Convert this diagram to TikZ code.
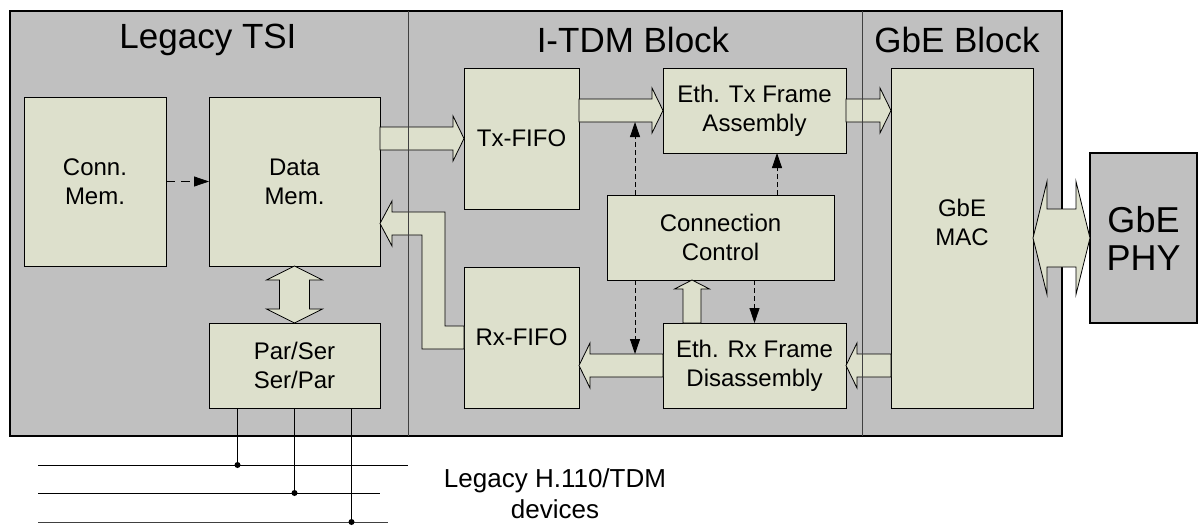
\documentclass[tikz,border=0pt]{standalone}
\usepackage{fontspec}
\setmainfont{Liberation Sans}
\usepackage{xcolor}
\usepackage{tikz}
\usetikzlibrary{arrows.meta, calc}

\definecolor{panelgray}{RGB}{192,192,192}
\definecolor{boxfill}{RGB}{221,224,204}
\definecolor{divgray}{RGB}{64,64,64}

\newcommand{\blockfont}{\fontsize{24}{29}\selectfont}
\newcommand{\titlefont}{\fontsize{35}{40}\selectfont}
\newcommand{\phyfont}{\fontsize{36}{38}\selectfont}
\newcommand{\notefont}{\fontsize{26}{31}\selectfont}

% hollow block arrows: from, to, half shaft, half head, head length
\newcommand{\hfat}[5]{%
  \draw[fat] let \p1=#1, \p2=#2, \n1={sign(\x1-\x2)*#5} in
    (\x1,\y1+#3) -- (\x2+\n1,\y1+#3) -- (\x2+\n1,\y1+#4) -- (\x2,\y1)
    -- (\x2+\n1,\y1-#4) -- (\x2+\n1,\y1-#3) -- (\x1,\y1-#3) -- cycle;}
\newcommand{\vfat}[5]{%
  \draw[fat] let \p1=#1, \p2=#2, \n1={sign(\y1-\y2)*#5} in
    (\x1+#3,\y1) -- (\x1+#3,\y2+\n1) -- (\x1+#4,\y2+\n1) -- (\x1,\y2)
    -- (\x1-#4,\y2+\n1) -- (\x1-#3,\y2+\n1) -- (\x1-#3,\y1) -- cycle;}
\newcommand{\hdfat}[5]{%
  \draw[fat] let \p1=#1, \p2=#2, \n1={sign(\x1-\x2)*#5} in
    (\x1,\y1) -- (\x1-\n1,\y1+#4) -- (\x1-\n1,\y1+#3) -- (\x2+\n1,\y1+#3)
    -- (\x2+\n1,\y1+#4) -- (\x2,\y1) -- (\x2+\n1,\y1-#4) -- (\x2+\n1,\y1-#3)
    -- (\x1-\n1,\y1-#3) -- (\x1-\n1,\y1-#4) -- cycle;}
\newcommand{\vdfat}[5]{%
  \draw[fat] let \p1=#1, \p2=#2, \n1={sign(\y1-\y2)*#5} in
    (\x1,\y1) -- (\x1+#4,\y1-\n1) -- (\x1+#3,\y1-\n1) -- (\x1+#3,\y2+\n1)
    -- (\x1+#4,\y2+\n1) -- (\x1,\y2) -- (\x1-#4,\y2+\n1) -- (\x1-#3,\y2+\n1)
    -- (\x1-#3,\y1-\n1) -- (\x1-#4,\y1-\n1) -- cycle;}

\begin{document}
\begin{tikzpicture}[
  x=1pt, y=1pt,
  panel/.style={fill=panelgray, inner sep=0pt, outer sep=0pt},
  block/.style={draw, fill=boxfill, line width=0.8pt, inner sep=0pt,
                outer sep=0pt, align=center, font=\blockfont},
  title/.style={font=\titlefont},
  fat/.style={draw, fill=boxfill, line width=0.8pt, line join=miter},
  ctl/.style={-{Triangle[length=15pt, width=10pt]}, dash pattern=on 5pt off 3pt,
              line width=0.8pt},
  divider/.style={draw=divgray, line width=1pt},
  bus/.style={line width=1pt}
]
\useasboundingbox (0,0) rectangle (1199,-525);
% panels
\node[panel, minimum width=398pt, minimum height=425pt] (tsi) at (209,-223.5) {};
\node[panel, minimum width=454pt, minimum height=425pt] (itdm) at (635,-223.5) {};
\node[panel, minimum width=200pt, minimum height=425pt] (gbe) at (962,-223.5) {};
\draw[line width=2pt] (tsi.north west) rectangle (gbe.south east);
\node[title] (tsititle) at (208,-40) {Legacy TSI};
\node[title] (itdmtitle) at (633,-40) {I-TDM Block};
\node[title] (gbetitle) at (957,-40) {GbE Block};
% legacy TSI
\node[block, minimum width=142pt, minimum height=169pt] (connmem) at (95,-181.5) {Conn.\\Mem.};
\node[block, minimum width=171pt, minimum height=169pt] (datamem) at (294.5,-181.5) {Data\\Mem.};
\node[block, minimum width=171pt, minimum height=85pt] (parser) at (294.5,-365.5) {Par/Ser\\Ser/Par};
% I-TDM
\node[block, minimum width=115pt, minimum height=141pt] (txfifo) at (521.5,-138.5) {Tx-FIFO};
\node[block, minimum width=115pt, minimum height=141pt] (rxfifo) at (521.5,-337.5) {Rx-FIFO};
\node[block, minimum width=183pt, minimum height=85pt] (ethtx) at (754.5,-110.5) {Eth. Tx Frame\\Assembly};
\node[block, minimum width=183pt, minimum height=85pt] (ethrx) at (754.5,-365.5) {Eth. Rx Frame\\Disassembly};
\node[block, minimum width=227pt, minimum height=85pt] (connctrl) at (720.5,-237.5) {Connection\\Control};
% GbE
\node[block, minimum width=142pt, minimum height=340pt] (gbemac) at (962,-238) {};
\node[font=\blockfont, align=center] (mactext) at (962,-222) {GbE\\MAC};
\node[draw, fill=panelgray, line width=2pt, outer sep=0pt, minimum width=107pt,
      minimum height=170pt, font=\phyfont, align=center] (gbephy) at (1143.5,-238) {GbE\\PHY};
% data paths
\hfat{(datamem.east |- txfifo.west)}{(txfifo.west)}{11.5pt}{22.5pt}{11pt}
\hfat{(txfifo.east |- ethtx.west)}{(ethtx.west)}{11.5pt}{22.5pt}{11pt}
\hfat{(ethtx.east)}{(gbemac.west |- ethtx.east)}{11.5pt}{22.5pt}{11pt}
\hfat{(ethrx.west)}{(rxfifo.east)}{11.5pt}{22.5pt}{11pt}
\hfat{(gbemac.west |- ethrx.east)}{(ethrx.east)}{11.5pt}{22.5pt}{11pt}
\vfat{([xshift=-62.5pt]ethrx.north)}{(connctrl.south)}{9pt}{17.5pt}{9pt}
\vdfat{(datamem.south)}{(parser.north)}{15pt}{28pt}{14pt}
\hdfat{(gbemac.east)}{(gbephy.west)}{29pt}{56.5pt}{14pt}
\draw[fat] let \p1=(rxfifo.west), \p2=([yshift=-42pt]datamem.east),
    \p3=([xshift=-30.5pt]rxfifo.west) in
  (\x1,\y1+11.5pt) -- (\x3+11.5pt,\y1+11.5pt) -- (\x3+11.5pt,\y2+11.5pt)
  -- (\x2+12pt,\y2+11.5pt) -- (\x2+12pt,\y2+22.5pt) -- (\x2,\y2)
  -- (\x2+12pt,\y2-22.5pt) -- (\x2+12pt,\y2-11.5pt) -- (\x3-11.5pt,\y2-11.5pt)
  -- (\x3-11.5pt,\y1-11.5pt) -- (\x1,\y1-11.5pt) -- cycle;
\draw[divider] (tsi.north east) -- (tsi.south east);
\draw[divider] (gbe.north west) -- (gbe.south west);
% control signals
\coordinate (txtap) at (635,-122);
\coordinate (rxtap) at (635,-354);
\coordinate (ctltx) at ([xshift=56.5pt]connctrl.north);
\draw[ctl, dash pattern=on 9pt off 6pt] (connmem) -- (datamem);
\draw[ctl] (connctrl.north -| txtap) -- (txtap);
\draw[ctl] (connctrl.south -| rxtap) -- (rxtap);
\draw[ctl] (ctltx) -- (ctltx |- ethtx.south);
\draw[ctl] (connctrl.south -| ethrx.north) -- (ethrx.north);
% legacy bus
\coordinate (tap1) at ([xshift=-57pt]parser.south);
\coordinate (tap2) at (parser.south);
\coordinate (tap3) at ([xshift=57pt]parser.south);
\coordinate (bus1w) at (38,-465);
\coordinate (bus1e) at (408,-465);
\coordinate (bus2w) at (38,-493);
\coordinate (bus2e) at (380,-493);
\coordinate (bus3w) at (38,-522);
\coordinate (bus3e) at (388,-522);
\draw[bus] (bus1w) -- (bus1e);
\draw[bus] (bus2w) -- (bus2e);
\draw[bus, draw=divgray] (bus3w) -- (bus3e);
\draw[bus] (tap1) -- (tap1 |- bus1w);
\draw[bus] (tap2) -- (tap2 |- bus2w);
\draw[bus] (tap3) -- (tap3 |- bus3w);
\fill (tap1 |- bus1w) circle (3pt);
\fill (tap2 |- bus2w) circle (3pt);
\fill (tap3 |- bus3w) circle (3pt);
\node[font=\notefont, align=center] (devices) at (555,-494) {Legacy H.110/TDM\\devices};
\end{tikzpicture}
\end{document}
